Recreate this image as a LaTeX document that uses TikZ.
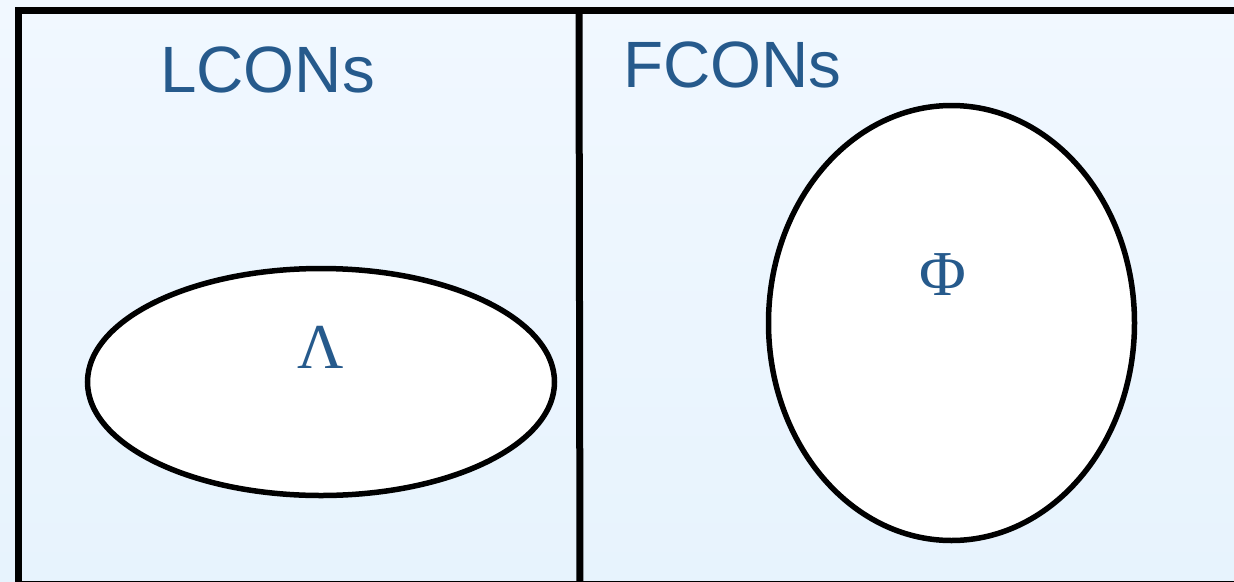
\documentclass[tikz,border=0pt]{standalone}
\usepackage{fontspec}
\setmainfont{Liberation Sans}
\newfontfamily\greekfont{Liberation Serif}
\usetikzlibrary{shapes.geometric}
\definecolor{labelblue}{HTML}{265A8C}
\definecolor{paletop}{HTML}{F1F8FF}
\definecolor{palebottom}{HTML}{E7F3FD}
\tikzset{
  frame/.style={line width=7pt, draw=black},
  region/.style={draw=black, line width=5.5pt, fill=white, ellipse, inner sep=0pt, outer sep=0pt},
  title/.style={text=labelblue, font=\fontsize{65.5}{66}\selectfont, anchor=base, inner sep=0pt},
  symbol/.style={text=labelblue, font=\greekfont\fontsize{64}{64}\selectfont, inner sep=0pt}
}
\begin{document}
\begin{tikzpicture}[x=1pt, y=-1pt]
  \useasboundingbox (0,0) rectangle (1234,581);
  \clip (0,0) rectangle (1234,581);
  % pale blue backdrop
  \fill[top color=paletop, bottom color=palebottom] (0,0) rectangle (1234,581);
  % outer frame and divider between the two classes
  \draw[frame] (18.5,10.5) rectangle (1260,584.5);
  \coordinate (divtop) at (579,10.5);
  \coordinate (divbot) at (580,600);
  \draw[frame] (divtop) -- (divbot);
  % headings
  \node[title] (lcons) at (267.5,92) {LCONs};
  \node[title] (fcons) at (732.5,87) {FCONs};
  % the two sets
  \node[region, minimum width=467pt, minimum height=227pt] (lam) at (321,382) {};
  \node[region, minimum width=366pt, minimum height=435pt] (phi) at (951.5,323) {};
  \node[symbol] (lamsym) at (321,347) {Λ};
  \node[symbol] (phisym) at (943,275) {Φ};
\end{tikzpicture}
\end{document}
